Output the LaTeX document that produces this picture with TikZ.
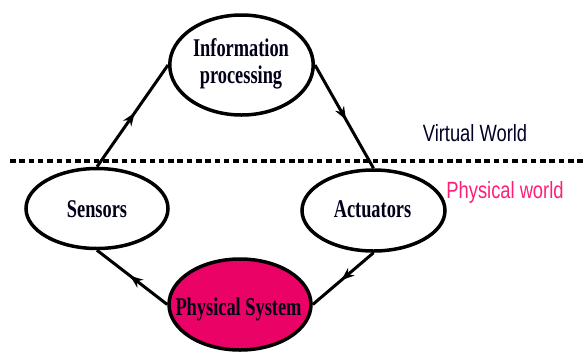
\documentclass[tikz,border=0pt]{standalone}
\usepackage{fontspec}
\usetikzlibrary{shapes.geometric,arrows.meta,decorations.markings}
\newfontfamily\boxfont[FakeStretch=0.72]{Liberation Serif}
\newfontfamily\labfont[FakeStretch=0.78]{Liberation Sans}
\definecolor{pinkfill}{RGB}{235,2,102}
\definecolor{pinktext}{RGB}{255,30,118}
\tikzset{
  oval/.style={ellipse, draw=black, line width=3.5pt, inner sep=0pt},
  ovaltext/.style={font=\boxfont\bfseries\fontsize{25.5}{26.5}\selectfont, inner sep=0pt, anchor=base, align=center, text=black!90!blue},
  worldtext/.style={font=\labfont\fontsize{23.5}{24}\selectfont, inner sep=0pt, anchor=base},
  flow/.style={line width=3pt, postaction={decorate},
    decoration={markings, mark=at position 0.53 with {\arrow{Stealth[length=13pt,width=10pt]}}}},
  divider/.style={line width=4.8pt, dash pattern=on 5.5pt off 3.8pt}
}
\begin{document}
\begin{tikzpicture}[x=1pt,y=-1pt]
\useasboundingbox (0,0) rectangle (585,354);
% dotted divider
\coordinate (dl) at (10,161);
\coordinate (dr) at (585,161);
\draw[divider] (dl) -- (dr);
% ellipses
\node[oval, minimum width=143.5pt, minimum height=100pt] (info) at (241.5,65) {};
\node[oval, minimum width=142pt, minimum height=80pt] (sens) at (97,208.5) {};
\node[oval, minimum width=143pt, minimum height=81pt] (act) at (373.5,210.5) {};
\node[oval, fill=pinkfill, minimum width=142pt, minimum height=91pt] (phys) at (240,304.5) {};
% texts
\node[ovaltext] (infoA) at (241,56.7) {Information};
\node[ovaltext] (infoB) at (241,83) {processing};
\node[ovaltext] (sensT) at (97,217) {Sensors};
\node[ovaltext] (actT) at (372.5,217) {Actuators};
\node[ovaltext] (physT) at (238.5,315) {Physical System};
\node[worldtext, text=black!85!blue] (virt) at (475,141.7) {Virtual World};
\node[worldtext, text=pinktext] (phyw) at (505,198) {Physical world};
% connectors
\draw[flow] (sens.north) -- (info.west);
\draw[flow] (info.east) -- (act.north);
\draw[flow] (act.south) -- (phys.east);
\draw[flow] (phys.west) -- (sens.south);
\end{tikzpicture}
\end{document}
